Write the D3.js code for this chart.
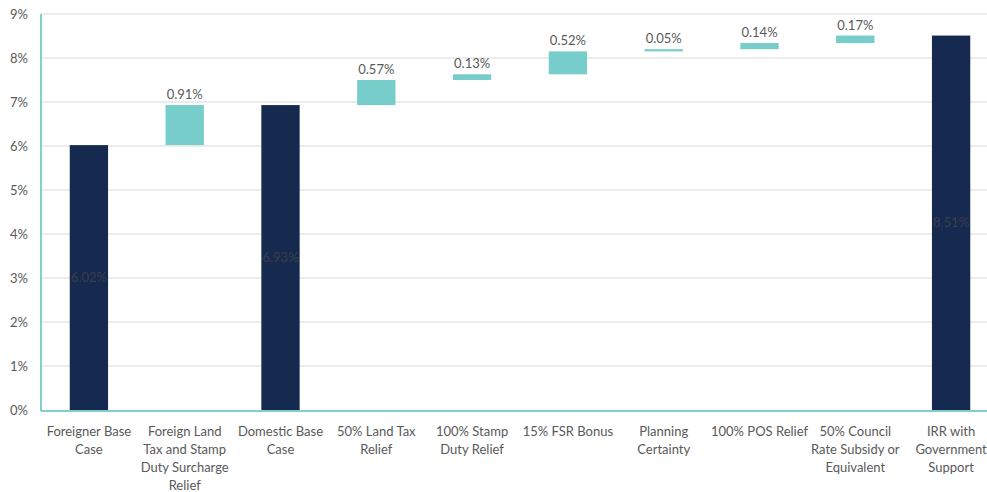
<!DOCTYPE html>
<html><head><meta charset="utf-8">
<script src="https://cdn.jsdelivr.net/npm/d3@7"></script>
<style>
html,body{margin:0;padding:0;background:#fff;overflow:hidden;}
text{font-family:Lato,"Open Sans",sans-serif;}
</style></head>
<body><svg id="c" width="987" height="492"></svg>
<script>
const categories = ["Foreigner Base Case","Foreign Land Tax and Stamp Duty Surcharge Relief","Domestic Base Case","50% Land Tax Relief","100% Stamp Duty Relief","15% FSR Bonus","Planning Certainty","100% POS Relief","50% Council Rate Subsidy or Equivalent","IRR with Government Support"];
const labelLines = [["Foreigner Base","Case"],["Foreign Land","Tax and Stamp","Duty Surcharge","Relief"],["Domestic Base","Case"],["50% Land Tax","Relief"],["100% Stamp","Duty Relief"],["15% FSR Bonus"],["Planning","Certainty"],["100% POS Relief"],["50% Council","Rate Subsidy or","Equivalent"],["IRR with","Government","Support"]];
const values = [6.02,0.91,6.93,0.57,0.13,0.52,0.05,0.14,0.17,8.51];
const isTotal = [true,false,true,false,false,false,false,false,false,true];
const yTicks = [0,1,2,3,4,5,6,7,8,9];

(function(){
const svg = d3.select("#c");
const mL = 41, mR = 999, mT = 14, mB = 410;
const fs = 13;
const x = d3.scaleBand().domain(categories).range([mL,mR]).paddingInner(0.6).paddingOuter(0.3);
const y = d3.scaleLinear().domain([0,9]).range([mB,mT]);

let run = 0;
const bars = values.map((v,i)=>{
  let b0,b1;
  if(isTotal[i]){ b0=0; b1=v; run=v; }
  else { b0=run; b1=run+v; run=b1; }
  return {cat:categories[i], v, b0, b1, total:isTotal[i]};
});

svg.append("g").selectAll("line").data(yTicks.filter(d=>d>0)).join("line")
  .attr("x1",mL).attr("x2",987).attr("y1",d=>y(d)).attr("y2",d=>y(d))
  .attr("stroke","#d9d9d9").attr("stroke-width",1);

svg.append("g").selectAll("text").data(yTicks).join("text")
  .attr("x",28).attr("y",d=>y(d)).attr("dy","0.35em").attr("text-anchor","end")
  .attr("font-size",fs).attr("fill","#595959").text(d=>d+"%");

svg.append("g").selectAll("rect").data(bars).join("rect")
  .attr("x",d=>x(d.cat)).attr("width",x.bandwidth())
  .attr("y",d=>y(d.b1)).attr("height",d=>Math.max(1.5,y(d.b0)-y(d.b1)))
  .attr("fill",d=>d.total?"#16294f":"#76cdc9");

svg.append("line").attr("x1",mL).attr("x2",mL).attr("y1",mT).attr("y2",mB+1)
  .attr("stroke","#7fcfcc").attr("stroke-width",2);
svg.append("line").attr("x1",mL).attr("x2",987).attr("y1",mB+1).attr("y2",mB+1)
  .attr("stroke","#7fcfcc").attr("stroke-width",2);

svg.append("g").selectAll("text").data(bars).join("text")
  .attr("x",d=>x(d.cat)+x.bandwidth()/2)
  .attr("y",d=>d.total? y(d.b1/2) : y(d.b1)-6)
  .attr("dy",d=>d.total?"0.35em":"0")
  .attr("text-anchor","middle").attr("font-size",fs)
  .attr("fill",d=>d.total?"#3a3f4a":"#595959")
  .text(d=>d.v.toFixed(2)+"%");

const xl = svg.append("g").selectAll("text").data(categories).join("text")
  .attr("x",d=>x(d)+x.bandwidth()/2).attr("y",436)
  .attr("text-anchor","middle").attr("font-size",fs).attr("fill","#595959");
xl.each(function(d,i){
  d3.select(this).selectAll("tspan").data(labelLines[i]).join("tspan")
    .attr("x",x(d)+x.bandwidth()/2).attr("dy",(t,j)=>j?18:0).text(t=>t);
});
})();
</script></body></html>
